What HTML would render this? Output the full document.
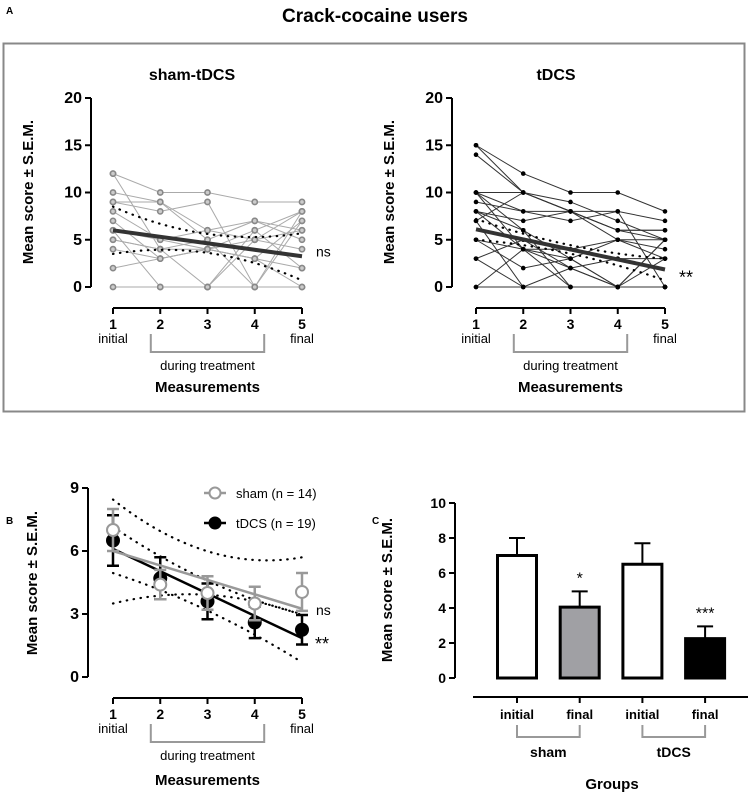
<!DOCTYPE html>
<html><head><meta charset="utf-8"><style>
body{margin:0;background:#fff;}
svg{display:block;font-family:"Liberation Sans",Arial,sans-serif;}
</style></head><body>
<svg id="fig" width="750" height="793" viewBox="0 0 750 793">
<text x="6" y="14" font-size="10" font-weight="bold">A</text>
<text x="375" y="22" font-size="19" font-weight="bold" text-anchor="middle">Crack-cocaine users</text>
<rect x="3.5" y="43.5" width="741" height="368" fill="none" stroke="#888" stroke-width="2"/>
<text x="192" y="80" font-size="16" font-weight="bold" text-anchor="middle">sham-tDCS</text>
<text x="556" y="80" font-size="16" font-weight="bold" text-anchor="middle">tDCS</text>
<g id="gA1"></g>
<g id="gA2"></g>
<text x="6" y="524" font-size="10" font-weight="bold">B</text>
<g id="gB"></g>
<text x="372" y="524" font-size="10" font-weight="bold">C</text>
<g id="gC"></g>
</svg>
<script>
const xCats=[1,2,3,4,5];
const xSub=["initial","","","","final"];
const shamSubjects=[[12,10,10,9,9],[12,4,0,6,8],[10,9,6,5,8],[9,8,9,0,7],[8,5,6,7,6],[7,3,4,6,2],[6,5,4,3,2],[6,0,0,5,4],[5,4,5,0,8],[4,3,4,3,0],[2,3,4,5,6],[0,0,0,0,0],[9,9,5,7,5],[5,4,4,3,7]];
const tdcsSubjects=[[15,12,10,10,8],[15,10,8,6,6],[14,10,9,7,5],[10,10,8,8,7],[10,8,8,6,5],[10,6,3,0,5],[9,8,7,8,0],[8,7,8,5,3],[8,4,0,0,0],[7,10,8,6,6],[7,0,2,3,3],[5,4,4,5,4],[5,2,3,0,5],[3,5,2,0,0],[3,0,0,0,0],[0,4,3,5,5],[0,0,0,0,0],[10,4,2,0,3],[8,6,0,0,0]];
const shamFit=[6.0,3.25];const shamBandUp=[8.5,5.7];const shamBandLo=[3.5,0.7];
const tdcsFit=[6.1,1.85];const tdcsBandUp=[7.2,3.0];const tdcsBandLo=[5.0,0.7];
const yTicksA=[0,5,10,15,20];
const shamMeans=[7.0,4.4,4.0,3.5,4.05];const shamSem=[1.0,0.7,0.8,0.8,0.9];
const tdcsMeans=[6.5,4.7,3.6,2.6,2.25];const tdcsSem=[1.2,1.0,0.85,0.75,0.7];
const yTicksB=[0,3,6,9];
const barCats=["initial","final","initial","final"];
const barVals=[7.0,4.05,6.5,2.25];const barSem=[1.0,0.9,1.2,0.7];
const barStars=["","*","","***"];
const yTicksC=[0,2,4,6,8,10];
const NS="http://www.w3.org/2000/svg";
function mk(p,t,a,txt){const e=document.createElementNS(NS,t);for(const k in a)e.setAttribute(k,a[k]);if(txt!==undefined)e.textContent=txt;p.appendChild(e);return e;}

function lineAxesX(g,X,yAx,yl){
  mk(g,'line',{x1:X(1),x2:X(5),y1:yAx,y2:yAx,stroke:'#000','stroke-width':2});
  xCats.forEach((c,i)=>{
    mk(g,'line',{x1:X(c),x2:X(c),y1:yAx,y2:yAx+6,stroke:'#000','stroke-width':2});
    const t=mk(g,'text',{x:X(c),y:yAx+21,'font-size':14,'font-weight':'bold','text-anchor':'middle'},String(c));
    
    
    if(xSub[i]){const s=mk(g,'text',{x:X(c),y:yAx+35,'font-size':13,'text-anchor':'middle'},xSub[i]);
      
      }
  });
  const b=mk(g,'path',{d:`M${X(1.8)} ${yAx+26}V${yAx+44}H${X(4.2)}V${yAx+26}`,fill:'none',stroke:'#999','stroke-width':2});
  
  
  const d=mk(g,'text',{x:X(3),y:yAx+62,'font-size':13,'text-anchor':'middle'},'during treatment');
  
  
  const m=mk(g,'text',{x:X(3),y:yl,'font-size':15,'font-weight':'bold','text-anchor':'middle'},'Measurements');
  
  
}
function yAxis(g,Y,ticks,xAx,ylx,ymid,fs){
  mk(g,'line',{x1:xAx,x2:xAx,y1:Y(ticks[ticks.length-1]),y2:Y(ticks[0]),stroke:'#000','stroke-width':2});
  ticks.forEach(v=>{mk(g,'line',{x1:xAx-6,x2:xAx,y1:Y(v),y2:Y(v),stroke:'#000','stroke-width':2});
    const t=mk(g,'text',{x:xAx-9,y:Y(v)+5,'font-size':fs,'font-weight':'bold','text-anchor':'end'},String(v));
    
    });
  const yt=mk(g,'text',{x:ylx,y:ymid,'font-size':15,'font-weight':'bold','text-anchor':'middle',transform:`rotate(-90 ${ylx} ${ymid})`},'Mean score ± S.E.M.');
  
  
}
function panelA(g,subs,fit,up,lo,x0,x1,yAxX,grey,ann){
  const X=c=>x0+(c-1)*(x1-x0)/4, Y=v=>287-v*9.45;
  yAxis(g,Y,yTicksA,yAxX,yAxX-58,192,16);
  lineAxesX(g,X,308,392);
  subs.forEach(s=>{
    const p=mk(g,'polyline',{points:s.map((v,i)=>X(xCats[i])+','+Y(v)).join(' '),fill:'none',stroke:grey?'#aaa':'#333','stroke-width':1});
    
    
    s.forEach((v,i)=>{const c=grey?mk(g,'circle',{cx:X(xCats[i]),cy:Y(v),r:2.6,fill:'#ccc',stroke:'#888','stroke-width':1.6}):mk(g,'circle',{cx:X(xCats[i]),cy:Y(v),r:2.3,fill:'#000'});
      
      });
  });
  [up,lo].forEach((b,k)=>{
    const fm=(fit[0]+fit[1])/2; const bm=(b[0]+b[1])/2; const cm=fm+(bm-fm)*0.4;
    const ctrl=2*cm-(b[0]+b[1])/2;
    const pth=mk(g,'path',{d:`M${X(1)} ${Y(b[0])}Q${X(3)} ${Y(ctrl)} ${X(5)} ${Y(b[1])}`,fill:'none',stroke:'#000','stroke-width':2.2,'stroke-dasharray':'0.5 6.5','stroke-linecap':'round'});
    
    
  });
  const f=mk(g,'line',{x1:X(1),y1:Y(fit[0]),x2:X(5),y2:Y(fit[1]),stroke:'#333','stroke-width':4});
  
  
  const a=mk(g,'text',{x:X(5)+14,y:Y(fit[1])+(grey?0:14),'font-size':ann=='ns'?14:18,'text-anchor':'start'},ann);
  
  
}
panelA(document.getElementById('gA1'),shamSubjects,shamFit,shamBandUp,shamBandLo,113,302,91,true,'ns');
panelA(document.getElementById('gA2'),tdcsSubjects,tdcsFit,tdcsBandUp,tdcsBandLo,476,665,452,false,'**');

(function(){
  const g=document.getElementById('gB');
  const X=c=>113+(c-1)*189/4, Y=v=>677-v*21;
  yAxis(g,Y,yTicksB,88,37,583,16);
  lineAxesX(g,X,698,785);
  const bandsB=[[8.45,5.7],[3.5,2.95],[7.15,3.0],[4.95,0.7]];
  const ctrlB=[4.9,4.6,4.1,3.5];
  bandsB.forEach((b,k)=>{const p=mk(g,'path',{d:`M${X(1)} ${Y(b[0])}Q${X(3)} ${Y(ctrlB[k])} ${X(5)} ${Y(b[1])}`,fill:'none',stroke:'#000','stroke-width':2.2,'stroke-dasharray':'0.5 6.5','stroke-linecap':'round'});
    
    });
  function series(m,s,col,fill,fit,name){
    m.forEach((v,i)=>{const x=X(xCats[i]);
      const e=mk(g,'path',{d:`M${x} ${Y(v-s[i])}V${Y(v+s[i])}M${x-6} ${Y(v-s[i])}h12M${x-6} ${Y(v+s[i])}h12`,stroke:col,'stroke-width':2.5,fill:'none'});
      
      });
    const l=mk(g,'line',{x1:X(1),y1:Y(fit[0]),x2:X(5),y2:Y(fit[1]),stroke:col,'stroke-width':2.5});
    
    
    m.forEach((v,i)=>{const c=mk(g,'circle',{cx:X(xCats[i]),cy:Y(v),r:6,fill:fill,stroke:col,'stroke-width':2});
      
      });
  }
  series(tdcsMeans,tdcsSem,'#000','#000',tdcsFit,'tdcs');
  series(shamMeans,shamSem,'#999','#fff',shamFit,'sham');
  const n=mk(g,'text',{x:X(5)+14,y:Y(shamFit[1])+6,'font-size':14},'ns');
  
  
  const s=mk(g,'text',{x:X(5)+13,y:Y(tdcsFit[1])+12,'font-size':18},'**');
  
  
  const lg=[['sham (n = 14)','#999','#fff',493],['tDCS (n = 19)','#000','#000',523]];
  lg.forEach(L=>{const e=mk(g,'g',{});
    
    
    mk(e,'line',{x1:204,x2:226,y1:L[3],y2:L[3],stroke:L[1],'stroke-width':2.5});
    mk(e,'circle',{cx:215,cy:L[3],r:5.5,fill:L[2],stroke:L[1],'stroke-width':2});
    mk(e,'text',{x:236,y:L[3]+5,'font-size':13},L[0]);});
})();

(function(){
  const g=document.getElementById('gC');
  const Y=v=>678-v*17.5, X=i=>517+i*62.7;
  yAxis(g,Y,yTicksC,455,392,590,14);
  mk(g,'line',{x1:473,x2:748,y1:697,y2:697,stroke:'#000','stroke-width':2});
  const fills=['#fff','#a0a0a4','#fff','#000'];
  barVals.forEach((v,i)=>{const x=X(i);
    const e=mk(g,'path',{d:`M${x} ${Y(v)}V${Y(v+barSem[i])}M${x-8} ${Y(v+barSem[i])}h16`,stroke:'#000','stroke-width':2,fill:'none'});
    
    
    const r=mk(g,'rect',{x:x-19.5,y:Y(v),width:39,height:Y(0)-Y(v),fill:fills[i],stroke:'#000','stroke-width':3});
    
    
    if(barStars[i]){const s=mk(g,'text',{x:x,y:Y(v+barSem[i])-8,'font-size':16,'text-anchor':'middle'},barStars[i]);
      
      }
    mk(g,'line',{x1:x,x2:x,y1:697,y2:703,stroke:'#000','stroke-width':2});
    const t=mk(g,'text',{x:x,y:719,'font-size':13,'font-weight':'bold','text-anchor':'middle'},barCats[i]);
    
    
  });
  [['sham',0],['tDCS',2]].forEach(G=>{const x1=X(G[1]),x2=X(G[1]+1);
    const b=mk(g,'path',{d:`M${x1} 725V737H${x2}V725`,fill:'none',stroke:'#999','stroke-width':2});
    
    
    const t=mk(g,'text',{x:(x1+x2)/2,y:757,'font-size':14,'font-weight':'bold','text-anchor':'middle'},G[0]);
    
    });
  const gt=mk(g,'text',{x:612,y:789,'font-size':15,'font-weight':'bold','text-anchor':'middle'},'Groups');
  
  
})();
</script>
</body></html>
